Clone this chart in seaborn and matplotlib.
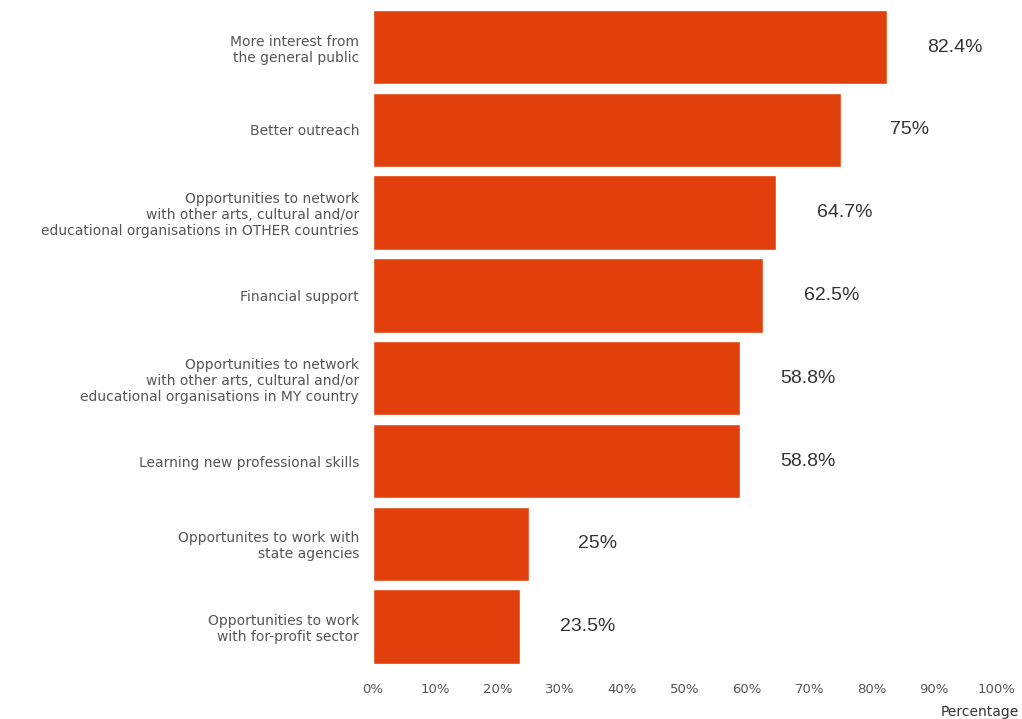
import matplotlib
matplotlib.use("Agg")
import matplotlib.pyplot as plt
import seaborn as sns
import pandas as pd
from matplotlib.ticker import PercentFormatter

categories = [
    "More interest from\nthe general public",
    "Better outreach",
    "Opportunities to network\nwith other arts, cultural and/or\neducational organisations in OTHER countries",
    "Financial support",
    "Opportunities to network\nwith other arts, cultural and/or\neducational organisations in MY country",
    "Learning new professional skills",
    "Opportunites to work with\nstate agencies",
    "Opportunities to work\nwith for-profit sector",
]
values = [0.824, 0.75, 0.647, 0.625, 0.588, 0.588, 0.25, 0.235]
value_labels = ["82.4%", "75%", "64.7%", "62.5%", "58.8%", "58.8%", "25%", "23.5%"]
bar_color = "#E1400C"

df = pd.DataFrame({"category": categories, "value": values})

sns.set_style("white")
fig = plt.figure(figsize=(10.22, 7.19), dpi=100)
ax = fig.add_axes([0.365, 0.071, 0.61, 0.921])

sns.barplot(data=df, x="value", y="category", color=bar_color, saturation=1,
            width=0.9, ax=ax)

# value labels sit to the right of each bar
for i, (v, lab) in enumerate(zip(values, value_labels)):
    ax.text(v + 0.11, i, lab, ha="center", va="center", fontsize=14,
            color="#333333", family="Liberation Sans")

ax.set_xlim(0, 1)
ax.set_xticks([i / 10 for i in range(11)])
ax.xaxis.set_major_formatter(PercentFormatter(1.0, decimals=0))
ax.tick_params(axis="x", length=0, labelsize=9.5, labelcolor="#555555", pad=11)
ax.tick_params(axis="y", length=0, labelsize=10, labelcolor="#555555", pad=10)
ax.set_ylabel("")
ax.set_xlabel("")
sns.despine(ax=ax, left=True, bottom=True, top=True, right=True)

fig.text(0.997, 0.0, "Percentage", ha="right", va="bottom", fontsize=10, color="#333333")

fig.savefig("out.png", dpi=100)
